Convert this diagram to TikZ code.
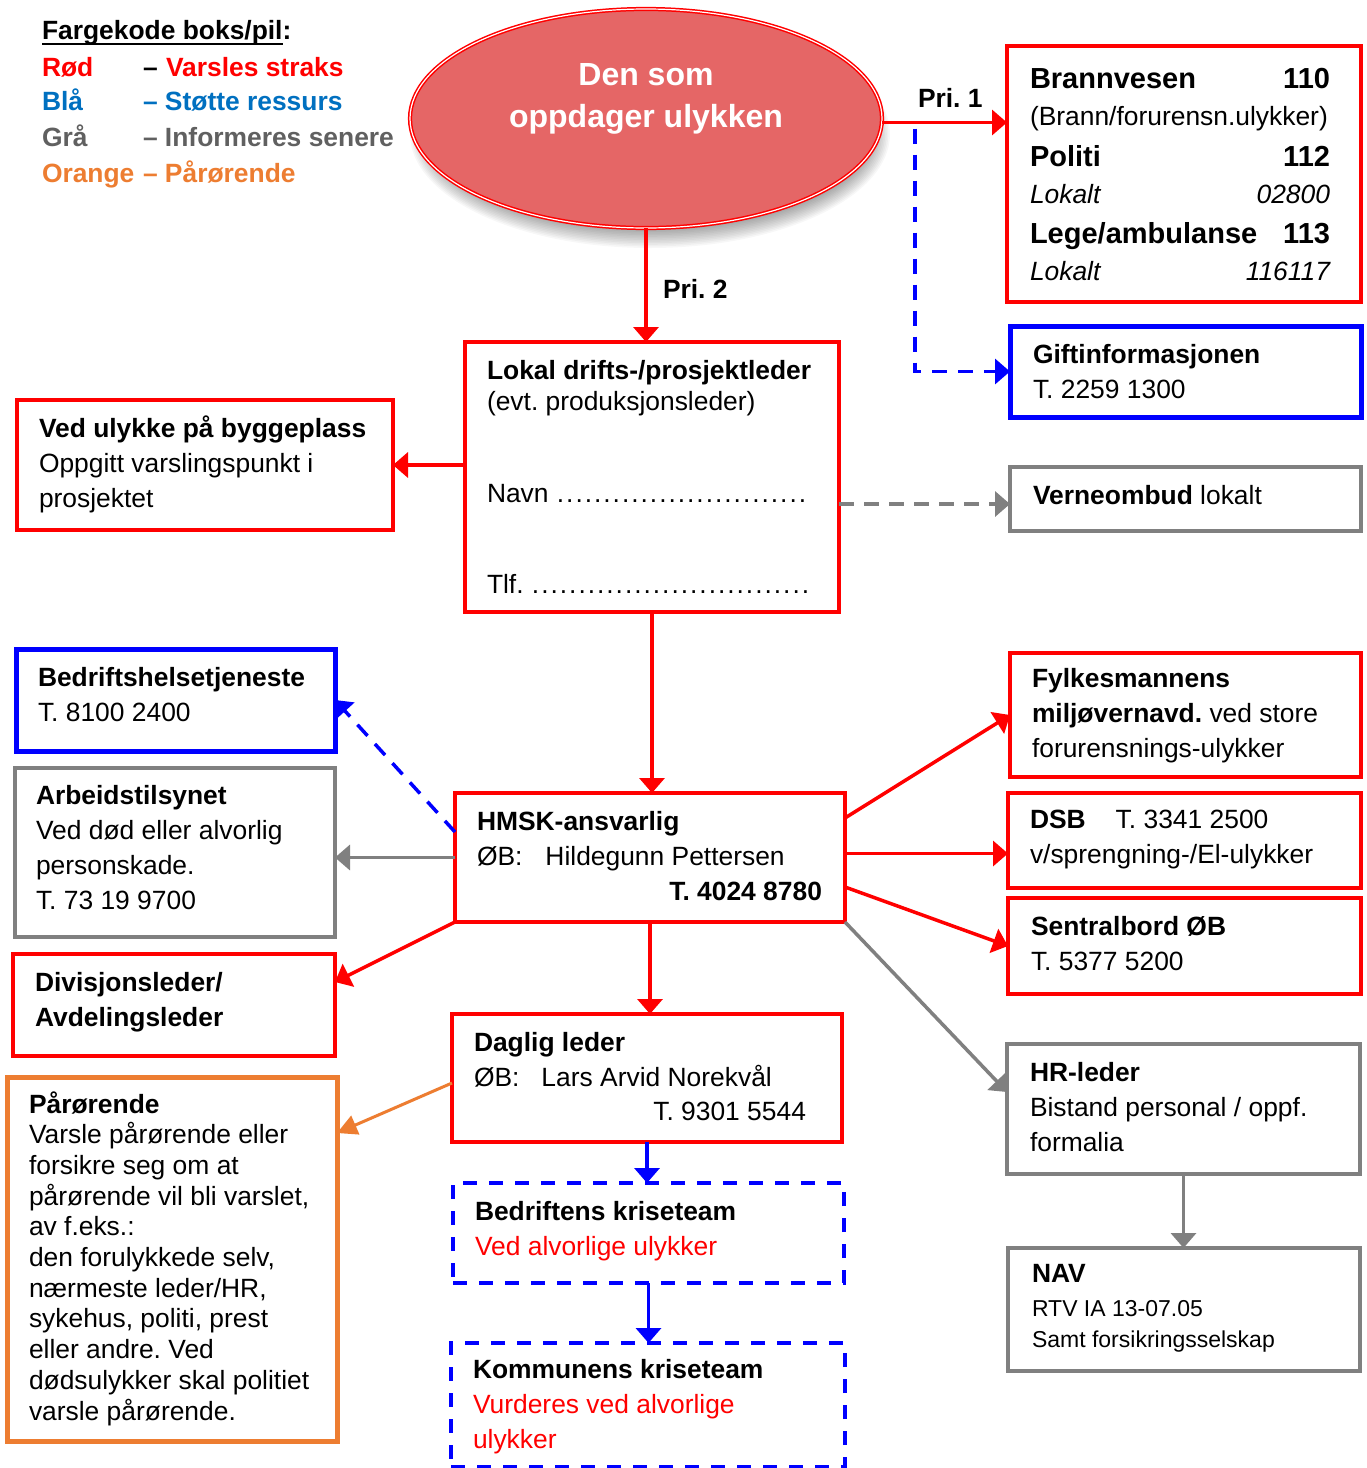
\documentclass[tikz,border=0pt]{standalone}
\usepackage{fontspec}
\setmainfont{Liberation Sans}
\usetikzlibrary{arrows.meta,shapes.geometric,calc}
\definecolor{elfill}{RGB}{229,102,102}
\definecolor{lgblue}{HTML}{0070C0}
\definecolor{lggray}{HTML}{606060}
\definecolor{orng}{HTML}{ED7D31}
\definecolor{bxgray}{HTML}{808080}
\newcommand\fs{\fontsize{26.4}{35}\selectfont}
\newcommand\fbig{\fontsize{29}{35}\selectfont\bfseries}
\newcommand\dotsto[1]{\hbox to #1{\leaders\hbox to 9.3pt{\hss.\hss}\hfill}}
\frenchspacing
\begin{document}
\frenchspacing
\begin{tikzpicture}[x=1pt,y=-1pt,
 box/.style={draw, line width=4pt, anchor=north west, inner sep=0pt, outer sep=0pt, fill=white},
 rbox/.style={box, draw=red},
 bbox/.style={box, draw=blue, line width=5pt},
 gbox/.style={box, draw=bxgray},
 obox/.style={box, draw=orng, line width=5pt},
 dbox/.style={box, draw=blue, line width=4pt, dash pattern=on 14pt off 12pt},
 tx/.style={anchor=base west, inner sep=0pt, outer sep=0pt, font=\fs},
 rtx/.style={anchor=base east, inner sep=0pt, outer sep=0pt, font=\fs},
 harrow/.style={-{Triangle[length=15pt,width=25pt]}},
 rarr/.style={harrow, draw=red, line width=3.5pt},
 garr/.style={harrow, draw=bxgray, line width=3.5pt},
 barr/.style={harrow, draw=blue, line width=3.5pt},
 bdarr/.style={barr, dash pattern=on 15pt off 11pt},
 gdarr/.style={garr, dash pattern=on 15pt off 10pt},
 oarr/.style={-{Triangle[length=20pt,width=20pt]}, draw=orng, line width=3pt},
]
\fill[white] (0,0) rectangle (1367,1468);
\useasboundingbox (0,0) rectangle (1367,1468);

% ---------- legend ----------
\node[tx, font=\fs\bfseries] (lg0) at (42,39) {Fargekode boks/pil};
\node[tx, font=\fs\bfseries] (lg0c) at (lg0.base east) {:};
\draw[line width=2.5pt] ([yshift=-5pt]lg0.base west) -- ([yshift=-5pt]lg0.base east);
\node[tx, font=\fs\bfseries, text=red] (lg1a) at (42,76) {Rød};
\node[tx, font=\fs\bfseries] (lg1b) at (143,76) {–};
\node[tx, font=\fs\bfseries, text=red] (lg1c) at (166,76) {Varsles straks};
\node[tx, font=\fs\bfseries, text=lgblue] (lg2a) at (42,110) {Blå};
\node[tx, font=\fs\bfseries, text=lgblue] (lg2b) at (143,110) {– Støtte ressurs};
\node[tx, font=\fs\bfseries, text=lggray] (lg3a) at (42,146) {Grå};
\node[tx, font=\fs\bfseries, text=lggray] (lg3b) at (143,146) {– Informeres senere};
\node[tx, font=\fs\bfseries, text=orng] (lg4a) at (42,182) {Orange};
\node[tx, font=\fs\bfseries, text=orng] (lg4b) at (143,182) {– Pårørende};

% ---------- ellipse ----------
\foreach \k in {0,...,11}
  \fill[black, opacity=0.03] (650,134) ellipse [x radius={240-1.6*\k}, y radius={114-1.6*\k}];
\node[ellipse, draw=red, double=white, double distance=1.2pt, line width=1.5pt,
      fill=elfill, minimum width=472pt, minimum height=219pt, inner sep=0pt, outer sep=0pt]
      (el) at (646,118.5) {};
\node[anchor=base, inner sep=0pt, text=white, font=\fontsize{32}{42}\selectfont\bfseries] (el1) at (646,85) {Den som};
\node[anchor=base, inner sep=0pt, text=white, font=\fontsize{32}{42}\selectfont\bfseries] (el2) at (646,127) {oppdager ulykken};

% ---------- boxes ----------
\node[rbox, minimum width=354pt, minimum height=256pt] (bv) at (1007,46) {};
\node[bbox, minimum width=351pt, minimum height=91pt] (gi) at (1010,326) {};
\node[rbox, minimum width=374pt, minimum height=270pt] (lk) at (465,342) {};
\node[rbox, minimum width=376pt, minimum height=130pt] (vu) at (17,400) {};
\node[gbox, minimum width=351pt, minimum height=64pt] (vo) at (1010,467) {};
\node[bbox, minimum width=319pt, minimum height=102pt] (bh) at (16,649) {};
\node[gbox, minimum width=320pt, minimum height=169pt] (at) at (15,768) {};
\node[rbox, minimum width=322pt, minimum height=102pt] (dv) at (13,954) {};
\node[rbox, minimum width=390pt, minimum height=129pt] (hm) at (455,793) {};
\node[rbox, minimum width=390pt, minimum height=128pt] (dl) at (452,1014) {};
\node[obox, minimum width=330pt, minimum height=364pt] (pa) at (7,1077) {};
\node[dbox, minimum width=391pt, minimum height=100pt] (bk) at (453,1183) {};
\node[dbox, minimum width=394pt, minimum height=124pt] (kk) at (451,1343) {};
\node[rbox, minimum width=351pt, minimum height=124pt] (fy) at (1010,653) {};
\node[rbox, minimum width=353pt, minimum height=95pt] (ds) at (1008,793) {};
\node[rbox, minimum width=353pt, minimum height=96pt] (sb) at (1008,898) {};
\node[gbox, minimum width=353pt, minimum height=130pt] (hr) at (1007,1044) {};
\node[gbox, minimum width=352pt, minimum height=123pt] (nv) at (1008,1248) {};

% ---------- box texts ----------
\node[tx, font=\fbig] (bv1) at (1030,88) {Brannvesen};
\node[rtx, font=\fbig] (bv1r) at (1330,88) {110};
\node[tx] (bv2) at (1030,125) {(Brann/forurensn.ulykker)};
\node[tx, font=\fbig] (bv3) at (1030,166) {Politi};
\node[rtx, font=\fbig] (bv3r) at (1330,166) {112};
\node[tx, font=\fs\itshape] (bv4) at (1030,203) {Lokalt};
\node[rtx, font=\fs\itshape] (bv4r) at (1330,203) {02800};
\node[tx, font=\fbig] (bv5) at (1030,243) {Lege/ambulanse};
\node[rtx, font=\fbig] (bv5r) at (1330,243) {113};
\node[tx, font=\fs\itshape] (bv6) at (1030,280) {Lokalt};
\node[rtx, font=\fs\itshape] (bv6r) at (1330,280) {116117};

\node[tx] (git) at (1033,363) {\parbox[t]{320pt}{\raggedright\textbf{Giftinformasjonen}\\T. 2259 1300}};

\node[tx] (lk1) at (487,379) {\parbox[t]{345pt}{\fontsize{26.4}{31}\selectfont\raggedright\textbf{Lokal drifts-/prosjektleder}\\(evt. produksjonsleder)}};
\node[tx] (lk2) at (487,502) {Navn \dotsto{252pt}};
\node[tx] (lk3) at (487,593) {Tlf. \dotsto{282pt}};

\node[tx] (vut) at (39,437) {\parbox[t]{345pt}{\raggedright\textbf{Ved ulykke på byggeplass}\\Oppgitt varslingspunkt i\\prosjektet}};
\node[tx] (vot) at (1033,504) {\textbf{Verneombud} lokalt};
\node[tx] (bht) at (38,686) {\parbox[t]{290pt}{\raggedright\textbf{Bedriftshelsetjeneste}\\T. 8100 2400}};
\node[tx] (att) at (36,804) {\parbox[t]{290pt}{\raggedright\textbf{Arbeidstilsynet}\\Ved død eller alvorlig\\personskade.\\T. 73 19 9700}};
\node[tx] (dvt) at (35,991) {\parbox[t]{290pt}{\raggedright\textbf{Divisjonsleder/}\\\textbf{Avdelingsleder}}};

\node[tx] (hmt) at (477,830) {\parbox[t]{360pt}{\raggedright\textbf{HMSK-ansvarlig}\\ØB:\hspace{23pt}Hildegunn Pettersen}};
\node[rtx, font=\fs\bfseries] (hmr) at (822,900) {T. 4024 8780};

\node[tx] (dlt) at (474,1051) {\parbox[t]{360pt}{\raggedright\textbf{Daglig leder}\\ØB:\hspace{22pt}Lars Arvid Norekvål}};
\node[rtx] (dlr) at (806,1120) {T. 9301 5544};

\node[tx] (pat) at (29,1113) {\parbox[t]{305pt}{\fontsize{26.4}{30.7}\selectfont\raggedright\textbf{Pårørende}\\Varsle pårørende eller\\forsikre seg om at\\pårørende vil bli varslet,\\av f.eks.:\\den forulykkede selv,\\nærmeste leder/HR,\\sykehus, politi, prest\\eller andre. Ved\\dødsulykker skal politiet\\varsle pårørende.}};

\node[tx] (bkt) at (475,1220) {\parbox[t]{360pt}{\raggedright\textbf{Bedriftens kriseteam}\\\textcolor{red}{Ved alvorlige ulykker}}};
\node[tx] (kkt) at (473,1378) {\parbox[t]{360pt}{\raggedright\textbf{Kommunens kriseteam}\\\textcolor{red}{Vurderes ved alvorlige}\\\textcolor{red}{ulykker}}};

\node[tx] (fyt) at (1032,687) {\parbox[t]{325pt}{\raggedright\textbf{Fylkesmannens}\\\textbf{miljøvernavd.} ved store\\forurensnings-ulykker}};
\node[tx] (dst) at (1030,828) {\parbox[t]{325pt}{\raggedright\textbf{DSB}\hspace{30pt}T. 3341 2500\\v/sprengning-/El-ulykker}};
\node[tx] (sbt) at (1031,935) {\parbox[t]{325pt}{\raggedright\textbf{Sentralbord ØB}\\T. 5377 5200}};
\node[tx] (hrt) at (1030,1081) {\parbox[t]{325pt}{\raggedright\textbf{HR-leder}\\Bistand personal / oppf.\\formalia}};
\node[tx, font=\fs\bfseries] (nvt) at (1032,1282) {NAV};
\node[tx] (nvt2) at (1032,1316) {\parbox[t]{325pt}{\fontsize{23}{31}\selectfont\raggedright RTV IA 13-07.05\\Samt forsikringsselskap}};

% ---------- connectors ----------
\draw[rarr] ([yshift=-4pt]el.east) -- ([yshift=-4pt]el.east -| bv.west);
\node[tx, font=\fs\bfseries] (pri1) at (918,107) {Pri. 1};
\draw[bdarr] ([xshift=33pt,yshift=-10pt]el.east) |- (gi.west);
\draw[rarr] (el.south) -- (el.south |- lk.north);
\node[tx, font=\fs\bfseries] (pri2) at (663,298) {Pri. 2};
\draw[rarr] (lk.west |- vu.east) -- (vu.east);
\draw[gdarr] ([yshift=-5pt]lk.east |- vo.west) -- ([yshift=-5pt]vo.west);
\draw[rarr] (lk.south) -- (lk.south |- hm.north);
\draw[bdarr] ([yshift=-39pt]hm.north west) -- (bh.east);
\draw[garr] (hm.west) -- (hm.west -| at.east);
\draw[rarr] (hm.south west) -- ([yshift=23pt]dv.east);
\draw[rarr] (hm.south) -- (hm.south |- dl.north);
\draw[oarr] ([yshift=-69pt]dl.north west) -- ([yshift=-56pt]pa.north east);
\draw[barr] (dl.south) -- (dl.south |- bk.north);
\draw[barr] (bk.south) -- (bk.south |- kk.north);
\draw[rarr] ([yshift=-25pt]hm.north east) -- (fy.west);
\draw[rarr] ([yshift=4pt]hm.east) -- ([yshift=4pt]hm.east -| ds.west);
\draw[rarr] ([yshift=-94pt]hm.north east) -- (sb.west);
\draw[garr] (hm.south east) -- ([yshift=17pt]hr.west);
\draw[garr] (hr.south) -- (hr.south |- nv.north);
\end{tikzpicture}
\end{document}
